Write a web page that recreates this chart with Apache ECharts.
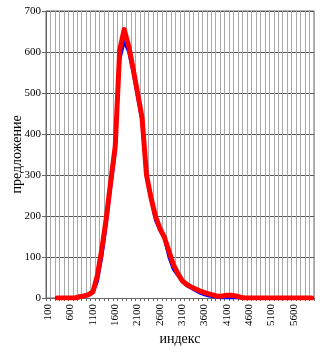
<!DOCTYPE html>
<html><head><meta charset="utf-8">
<script src="https://cdn.jsdelivr.net/npm/echarts@6/dist/echarts.min.js"></script>
<style>html,body{margin:0;padding:0;background:#fff}#c{width:325px;height:356px}</style>
</head><body><div id="c"></div>
<script>
// categories 100..6000 step 100
var categories = ['100','200','300','400','500','600','700','800','900','1000',
 '1100','1200','1300','1400','1500','1600','1700','1800','1900','2000',
 '2100','2200','2300','2400','2500','2600','2700','2800','2900','3000',
 '3100','3200','3300','3400','3500','3600','3700','3800','3900','4000',
 '4100','4200','4300','4400','4500','4600','4700','4800','4900','5000',
 '5100','5200','5300','5400','5500','5600','5700','5800','5900','6000'];
var blueValues = [null,null,0,0,0,0,0,2,4,6,
 12,40,100,180,270,355,580,625,600,550,
 490,430,295,240,190,165,145,100,70,55,
 40,30,24,18,12,8,5,3,1,0,
 0,0,0,0,0,0,0,0,0,0,
 0,0,0,0,0,0,0,0,0,0];
var redValues = [null,null,0,0,0,0,0,3,5,8,
 15,55,120,195,285,370,605,655,615,560,
 500,440,300,245,200,170,148,115,82,60,
 42,33,27,22,17,13,10,7,4,5,
 7,7,5,2,0,0,0,0,0,0,
 0,0,0,0,0,0,0,0,0,0];
var yTicks = [0,100,200,300,400,500,600,700];

var font = '"Liberation Serif","Times New Roman",serif';
var chart = echarts.init(document.getElementById('c'), null, {renderer:'canvas'});
chart.setOption({
  animation:false,
  grid:{left:46,right:11,top:11,bottom:58,show:true,borderColor:'#666',borderWidth:1,backgroundColor:'transparent',
        containLabel:false, outerBoundsMode:'none'},
  xAxis:{
    type:'category', data:categories, boundaryGap:true,
    name:'индекс', nameLocation:'middle', nameGap:34, nameMoveOverlap:false,
    nameTextStyle:{fontFamily:font,fontSize:14,color:'#000'},
    axisLine:{lineStyle:{color:'#666',width:1}},
    axisTick:{show:true,interval:0,length:3,lineStyle:{color:'#666'}},
    axisLabel:{interval:4,rotate:90,fontFamily:font,fontSize:11,color:'#000',margin:6},
    splitLine:{show:true,interval:0,lineStyle:{color:'#a8a8a8',width:1}}
  },
  yAxis:{
    type:'value', min:yTicks[0], max:yTicks[yTicks.length-1], interval:100,
    name:'предложение', nameLocation:'middle', nameGap:22, nameRotate:90, nameMoveOverlap:false,
    nameTextStyle:{fontFamily:font,fontSize:14,color:'#000'},
    axisLine:{show:true,lineStyle:{color:'#666',width:1}},
    axisTick:{show:true,length:4,lineStyle:{color:'#666'}},
    axisLabel:{fontFamily:font,fontSize:11,color:'#000',margin:5},
    splitLine:{show:true,lineStyle:{color:'#555',width:1}}
  },
  series:[
    {type:'line', data:blueValues, symbol:'none', z:2,
     lineStyle:{color:'#0000ff',width:3,cap:'round',join:'round'},
     areaStyle:{color:'#ffffff',opacity:1}},
    {type:'line', data:redValues, symbol:'none', z:3,
     lineStyle:{color:'#ff0000',width:5,cap:'round',join:'round'}}
  ]
});
</script></body></html>
